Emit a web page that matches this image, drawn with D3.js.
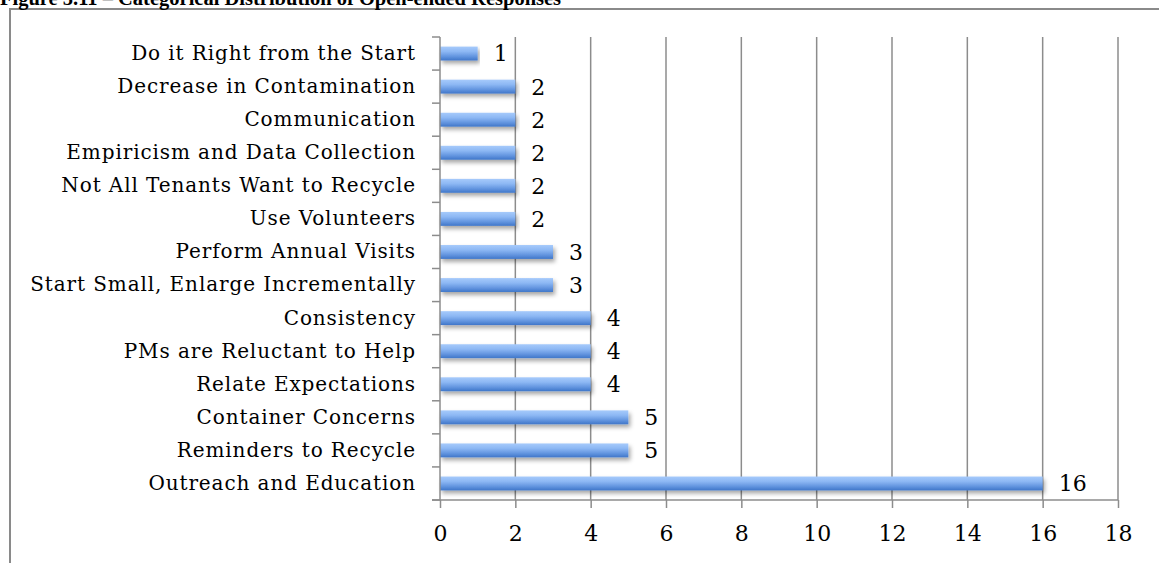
<!DOCTYPE html>
<html>
<head>
<meta charset="utf-8">
<script src="https://cdn.jsdelivr.net/npm/d3@7"></script>
<style>
  html, body { margin: 0; padding: 0; background: #fff; }
  svg { display: block; }
</style>
</head>
<body>
<svg id="chart" width="1159" height="563"></svg>
<script>
// Response categories, top to bottom, and their counts
const categories = [
  "Do it Right from the Start",
  "Decrease in Contamination",
  "Communication",
  "Empiricism and Data Collection",
  "Not All Tenants Want to Recycle",
  "Use Volunteers",
  "Perform Annual Visits",
  "Start Small, Enlarge Incrementally",
  "Consistency",
  "PMs are Reluctant to Help",
  "Relate Expectations",
  "Container Concerns",
  "Reminders to Recycle",
  "Outreach and Education"
];
const counts = [1, 2, 2, 2, 2, 2, 3, 3, 4, 4, 4, 5, 5, 16];
const xTicks = [0, 2, 4, 6, 8, 10, 12, 14, 16, 18];
const title = "Figure 5.11 \u2013 Categorical Distribution of Open-ended Responses";

const svg = d3.select("#chart");
const font = "'DejaVu Serif', 'Liberation Serif', serif";
const axisColor = "#8c8c8c";

const plot = { left: 440, right: 1118, top: 37, bottom: 500 };

const x = d3.scaleLinear().domain([0, 18]).range([plot.left, plot.right]);
const y = d3.scaleBand().domain(categories).range([plot.top, plot.bottom]).paddingInner(0.58).paddingOuter(0.29);

// Bar fill gradient and soft drop shadow
const defs = svg.append("defs");
const grad = defs.append("linearGradient").attr("id", "barGrad")
  .attr("x1", 0).attr("y1", 0).attr("x2", 0).attr("y2", 1);
grad.append("stop").attr("offset", "0%").attr("stop-color", "#a6cafb");
grad.append("stop").attr("offset", "35%").attr("stop-color", "#8db8f4");
grad.append("stop").attr("offset", "70%").attr("stop-color", "#6496e0");
grad.append("stop").attr("offset", "100%").attr("stop-color", "#3f76c9");

const shadow = defs.append("filter").attr("id", "barShadow")
  .attr("x", "-5%").attr("y", "-50%").attr("width", "110%").attr("height", "220%");
shadow.append("feDropShadow").attr("dx", 2).attr("dy", 3).attr("stdDeviation", 2)
  .attr("flood-color", "#000").attr("flood-opacity", 0.35);

// Outer frame
svg.append("rect").attr("x", 10).attr("y", 9).attr("width", 1160).attr("height", 570)
  .attr("fill", "none").attr("stroke", "#8a8a8a").attr("stroke-width", 2);

// Title (runs up against the top edge)
svg.append("text").attr("x", 0).attr("y", 5)
  .attr("font-family", "'Liberation Serif', serif").attr("font-weight", "bold")
  .attr("font-size", 20.5).attr("fill", "#000").text(title);

// Vertical gridlines
svg.append("g").selectAll("line").data(xTicks.filter(d => d > 0)).join("line")
  .attr("x1", d => x(d)).attr("x2", d => x(d))
  .attr("y1", plot.top).attr("y2", plot.bottom)
  .attr("stroke", axisColor).attr("stroke-width", 1.5);

// Bars
svg.append("g").selectAll("rect").data(categories).join("rect")
  .attr("x", x(0))
  .attr("y", d => y(d))
  .attr("width", (d, i) => x(counts[i]) - x(0))
  .attr("height", y.bandwidth())
  .attr("fill", "url(#barGrad)")
  .attr("filter", "url(#barShadow)");

// Value labels
svg.append("g").selectAll("text").data(categories).join("text")
  .attr("x", (d, i) => x(counts[i]) + 16)
  .attr("y", d => y(d) + y.bandwidth() / 2)
  .attr("dy", "0.36em")
  .attr("font-family", font).attr("font-size", 22).attr("fill", "#000")
  .text((d, i) => counts[i]);

// Category axis
const yAxis = d3.axisLeft(y).tickSize(0).tickPadding(24);
const gy = svg.append("g").attr("transform", `translate(${plot.left},0)`).call(yAxis);
gy.select(".domain").remove();
gy.selectAll("text").attr("font-family", font).attr("font-size", 20)
  .attr("letter-spacing", 0.9).attr("fill", "#000");
svg.append("line").attr("x1", plot.left).attr("x2", plot.left)
  .attr("y1", plot.top).attr("y2", plot.bottom)
  .attr("stroke", axisColor).attr("stroke-width", 1.5);
// Separator ticks between categories
const step = y.step();
const bounds = d3.range(categories.length + 1).map(i => plot.top + i * step);
svg.append("g").selectAll("line").data(bounds).join("line")
  .attr("x1", plot.left - 8).attr("x2", plot.left)
  .attr("y1", d => d).attr("y2", d => d)
  .attr("stroke", axisColor).attr("stroke-width", 1.5);

// Value axis
const xAxis = d3.axisBottom(x).tickValues(xTicks).tickSize(8).tickPadding(17);
const gx = svg.append("g").attr("transform", `translate(0,${plot.bottom})`).call(xAxis);
gx.select(".domain").attr("stroke", axisColor).attr("stroke-width", 1.5)
  .attr("d", `M${plot.left - 8},0H${plot.right}`);
gx.selectAll(".tick line").attr("stroke", axisColor).attr("stroke-width", 1.5);
gx.selectAll("text").attr("font-family", font).attr("font-size", 22).attr("fill", "#000");
</script>
</body>
</html>
